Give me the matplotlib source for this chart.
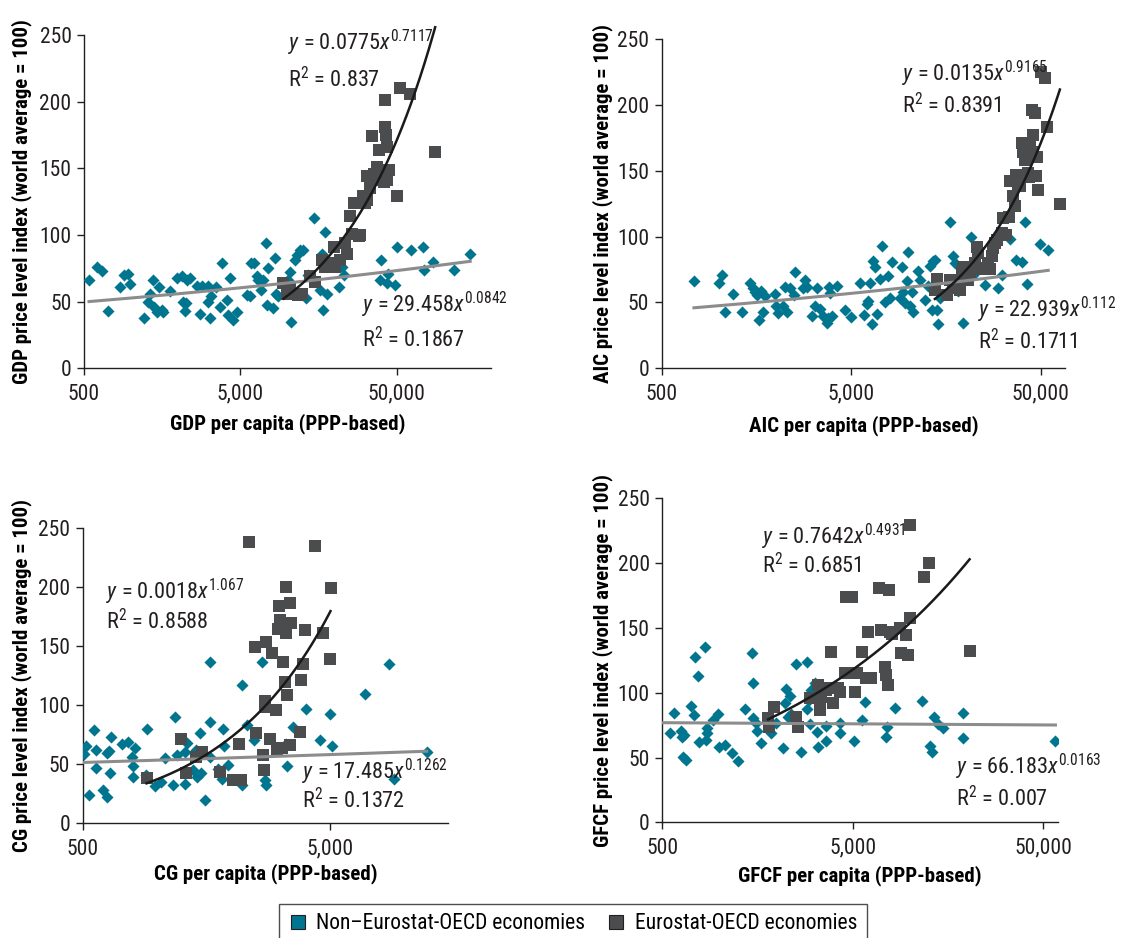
import numpy as np
import matplotlib
matplotlib.use('Agg')
import matplotlib.pyplot as plt
from matplotlib.lines import Line2D
from matplotlib import font_manager

# pick the narrowest sans family that is installed
avail = {f.name for f in font_manager.fontManager.ttflist}
FONT = next(n for n in ['Roboto Condensed', 'Liberation Sans Narrow', 'Roboto', 'Liberation Sans', 'DejaVu Sans']
            if n in avail)
plt.rcParams['font.family'] = [FONT, 'DejaVu Sans']
plt.rcParams['mathtext.fontset'] = 'custom'
plt.rcParams['mathtext.rm'] = FONT
plt.rcParams['mathtext.it'] = FONT + ':italic'
plt.rcParams['mathtext.bf'] = FONT + ':bold'

TEAL = '#00758f'
GREY = '#4b4c4e'
AXIS = '#231f20'

# ---- data (per capita in PPP terms, price level index world = 100) ----
gdp_non_x = [538, 608, 649, 716, 850, 901, 960, 984, 1210, 1290, 1322, 1374, 1402, 1459, 1517, 1570, 1608,
             1774, 1958, 2108, 2138, 2224, 2245, 2268, 2382, 2654, 2760, 2830, 3120, 3120, 3198, 3230, 3494,
             3706, 3798, 4088, 4170, 4296, 4466, 4738, 5546, 5765, 5820, 6115, 6360, 6520, 6810, 7015, 7260,
             7370, 7550, 8130, 8333, 8453, 8752, 10000, 10400, 10600, 10920, 11190, 11460, 12040, 12650,
             13150, 13610, 14660, 16180, 16570, 16820, 17410, 17830, 21190, 22240, 22800, 39100, 39500,
             43150, 43760, 48760, 50000, 61500, 73300, 74800, 85000, 116400, 147200]
gdp_non_y = [66, 76, 73, 43, 61, 70, 71, 63, 37.5, 50, 56, 66, 46, 42.5, 61, 44, 42.5,
             58, 68, 69, 50, 43, 49, 66, 68, 62, 41, 62, 62, 50, 37.5, 54, 61,
             46, 79, 51, 40, 67.5, 36, 42, 55, 54, 79, 79, 69, 66, 59, 66, 94,
             47.5, 75, 45, 82.5, 56, 54, 66, 72.5, 35, 56, 81, 85, 89, 89,
             52.5, 70, 113, 59, 86, 44, 102, 56, 61, 76, 70, 66, 81,
             64, 71, 62.5, 91, 89, 91, 74, 80, 74, 86]
gdp_oecd_x = [9420, 9890, 10400, 11740, 12330, 13950, 15020, 16570, 17410, 18280, 19680, 20170, 21720,
              23360, 23930, 25150, 25770, 26660, 28440, 29140, 30600, 31340, 32150, 32450, 33760, 34600,
              35480, 36360, 37260, 38190, 39100, 40080, 41100, 41500, 42100, 42100, 42740, 43150, 43150,
              44240, 50000, 52000, 60800, 87900]
gdp_oecd_y = [64, 56, 61, 55, 56, 69, 65, 81, 76, 79, 91, 76, 81,
              94, 86, 114, 101, 124, 99, 100, 129, 124, 144, 126, 135, 174,
              146, 141, 151, 164, 146, 144, 149, 140, 181, 201, 175, 166, 141,
              149, 129, 210, 206, 162]

aic_non_x = [740, 1007, 1036, 1079, 1194, 1321, 1461, 1509, 1553, 1597, 1637, 1663, 1704, 1754, 1979, 2004,
             2061, 2190, 2234, 2300, 2375, 2493, 2524, 2792, 2850, 2931, 3090, 3217, 3282, 3418, 3531, 3706,
             3782, 3829, 3860, 3938, 4185, 4628, 5000, 5553, 5832, 6022, 6146, 6272, 6400, 6530, 6664, 6800,
             7083, 7227, 7526, 7834, 7994, 8158, 9029, 9213, 9400, 9594, 9786, 9988, 10190, 10400, 10610,
             11270, 11500, 12230, 12740, 13000, 13260, 13530, 13800, 14090, 14380, 14670, 16560, 16900,
             17250, 17600, 18330, 19470, 19860, 21530, 21980, 25340, 29790, 31010, 34310, 37190, 39560,
             41180, 42010, 49390, 54670]
aic_non_y = [66.5, 64.5, 71, 43, 56, 43, 64.5, 61, 58, 55.5, 36.5, 59, 43, 54.5, 56, 47,
             42, 47, 62, 42.5, 61, 55.5, 73, 61, 67, 62, 40, 47, 61, 45, 40, 34,
             38, 62, 57, 40, 62.5, 44, 39, 64.5, 40.5, 48.5, 51, 64.5, 33.5, 81.5, 77, 41.5,
             68, 93, 50.5, 70, 53, 81, 53, 77, 58, 49.5, 66, 88.5, 47, 58, 42.5,
             74, 67, 52, 62.5, 77.5, 44.5, 81.5, 82.5, 44.5, 33.5, 53, 111, 62,
             85, 80, 59, 34, 71.5, 100, 71, 63, 61, 71, 98, 82, 81,
             111, 64, 94, 90]
aic_oecd_x = [13800, 14090, 15910, 16560, 17250, 17970, 18720, 19100, 19470, 19860, 20690, 21100, 22440,
              22900, 23370, 24340, 25340, 26390, 26910, 27470, 28050, 28600, 29190, 31010, 31630, 32940,
              34040, 34310, 35450, 36460, 37190, 37960, 38740, 39560, 40360, 41180, 42880, 43400, 43750,
              44650, 45190, 45570, 46500, 47070, 47460, 48410, 49810, 52490, 54000, 63000]
aic_oecd_y = [59.5, 68, 55.5, 67, 61, 64, 59.5, 72, 77, 71, 67, 72, 80,
              92, 87.5, 75, 76, 80, 75, 85, 91.5, 95, 97.5, 102.5, 114, 101,
              115, 142, 131, 123, 147, 139.5, 138, 171, 164.5, 158, 148, 145.5, 168,
              196, 164.5, 177, 194, 146, 160.5, 135, 225, 220, 183, 125]

cg_non_x = [506, 516, 532, 556, 566, 566, 606, 625, 629, 640, 649, 645, 718, 764, 788, 800, 800, 813, 900,
            906, 978, 1041, 1074, 1160, 1179, 1197, 1293, 1293, 1322, 1397, 1441, 1450, 1486, 1509, 1556,
            1631, 1641, 1641, 1762, 1834, 1846, 1857, 1934, 2209, 2209, 2307, 2454, 2659, 2717, 2760, 3303,
            3344, 3536, 4000, 4557, 4969, 5062, 6940, 8674, 9087, 12270]
cg_non_y = [58.6, 65.4, 23.7, 78.9, 62, 46.5, 28.2, 59.2, 22, 61.4, 73.3, 42.8, 67.1, 69, 56.4, 48.5, 39.5,
            63.4, 40.9, 79.5, 31.6, 35.2, 55, 32.4, 90.2, 57.5, 33.5, 60.6, 68.3, 45.1, 62, 39.5, 76.1, 42.3,
            19.7, 136.7, 85.9, 56.4, 46.2, 37.8, 79.4, 65.3, 49.3, 116.9, 32.4, 83.3, 70.4, 136.7, 36.6, 32.4,
            66.9, 48.5, 81.7, 96.4, 70.6, 92.4, 65.5, 109.2, 134.7, 37.8, 60]
cg_oecd_x = [906, 1253, 1305, 1441, 1523, 1789, 2025, 2141, 2188, 2350, 2477, 2500, 2676, 2693, 2717, 2734,
             2760, 2864, 2917, 3011, 3047, 3076, 3104, 3143, 3203, 3222, 3273, 3303, 3323, 3344, 3375, 3427,
             3449, 3481, 3760, 3819, 3879, 3940, 4324, 4671, 5015, 5000]
cg_oecd_y = [38, 71.3, 42.3, 56.4, 60.6, 43.4, 36.6, 67.1, 36.6, 238.2, 149.3, 76.1, 57.8, 45.1, 98.6, 103.7,
             153.5, 71.3, 143.7, 95.8, 62, 164.1, 183.8, 171.9, 63.4, 136.7, 119.8, 161.2, 200, 108.6, 169.1,
             186, 66, 169.1, 77.5, 121.2, 134.7, 163.4, 234.5, 160.6, 198.9, 138.8]

gfcf_non_x = [549, 576, 624, 632, 644, 650, 665, 704, 733, 742, 766, 782, 837, 847, 854, 861, 925, 984, 995,
              1066, 1155, 1252, 1357, 1471, 1489, 1500, 1550, 1575, 1653, 1872, 1973, 2156, 2200, 2244, 2290,
              2337, 2384, 2532, 2689, 2880, 2880, 2951, 2999, 3035, 3160, 3250, 3290, 3638, 3638, 4274, 4309,
              5060, 5618, 5803, 7508, 7568, 8304, 11600, 12670, 13090, 13300, 14010, 14880, 18960, 18960,
              58000]
gfcf_non_y = [68.7, 84.1, 70.2, 65.6, 50.2, 67.1, 48.1, 89.8, 82.8, 127.8, 112.9, 62.2, 135.5, 63.5, 68.7,
              72.5, 78.9, 83.6, 58.4, 59.7, 53.3, 47.6, 87.2, 130.4, 107.7, 80.2, 76.9, 70.7, 60.9, 68.7, 76.6,
              57.1, 91.8, 102.6, 81.5, 97.5, 83.6, 122.2, 54.5, 124, 87.2, 94.4, 75.6, 102, 107.2, 69.7, 57.9,
              62.7, 74.3, 68.7, 76.9, 62.7, 78.9, 92.8, 66.1, 73.3, 87.9, 93.9, 59.1, 54, 81.5, 75.9, 72.5,
              84.4, 64.8, 62.7]
gfcf_oecd_x = [1798, 1820, 1926, 2512, 2584, 2975, 3290, 3357, 3384, 3425, 3638, 3787, 3866, 3944, 4188, 4274,
               4540, 4632, 4980, 5143, 5269, 5618, 5898, 6017, 6266, 6873, 7069, 7361, 7508, 7659, 7753, 7880,
               8073, 8822, 8995, 9484, 9753, 9954, 10040, 11790, 12570, 20540]
gfcf_oecd_y = [80.2, 73.3, 89.2, 81.5, 73.8, 95.7, 105.9, 91.8, 86.7, 96.8, 102, 103.3, 131.7, 91.8, 103.3,
               100.7, 114.9, 174.1, 174.1, 100.2, 115, 131.7, 111.1, 147.1, 111.1, 180.5, 148.4, 120.1, 113.7,
               106.1, 179.2, 147.1, 145.3, 149.7, 130.4, 144.5, 129.1, 157.4, 229.4, 189, 200, 132.5]

names = ['GDP', 'AIC', 'CG', 'GFCF']
# power trend lines y = a * x**b as they are drawn in the chart
oecd_a = [0.0775, 0.00845, 0.0439, 4.437]
oecd_b = [0.7117, 0.9165, 0.976, 0.385]
non_a = [29.458, 21.9, 37.0, 79.3]
non_b = [0.0842, 0.112, 0.053, -0.00495]
non_xmin = [538, 740, 500, 500]
# equation labels printed in the chart
eq_fmt = [('0.0775', '0.7117', '0.837', '29.458', '0.0842', '0.1867'),
          ('0.0135', '0.9165', '0.8391', '22.939', '0.112', '0.1711'),
          ('0.0018', '1.067', '0.8588', '17.485', '0.1262', '0.1372'),
          ('0.7642', '0.4931', '0.6851', '66.183', '0.0163', '0.007')]

panels = [
    dict(non=(gdp_non_x, gdp_non_y), oecd=(gdp_oecd_x, gdp_oecd_y), rect=[0.0741, 0.6074, 0.3589, 0.3553],
         xmax=200000, ticks=[500, 5000, 50000], txt=[(0.50, 0.976), (0.50, 0.865), (0.682, 0.19), (0.682, 0.085)],
         ylab=62, xlab=55),
    dict(non=(aic_non_x, aic_non_y), oecd=(aic_oecd_x, aic_oecd_y), rect=[0.5835, 0.6074, 0.3556, 0.3511],
         xmax=67000, ticks=[500, 5000, 50000], txt=[(0.595, 0.894), (0.595, 0.797), (0.785, 0.177), (0.785, 0.081)],
         ylab=59, xlab=57),
    dict(non=(cg_non_x, cg_non_y), oecd=(cg_oecd_x, cg_oecd_y), rect=[0.0729, 0.1223, 0.3224, 0.3151],
         xmax=15000, ticks=[500, 5000], txt=[(0.064, 0.783), (0.064, 0.682), (0.599, 0.174), (0.599, 0.078)],
         ylab=61, xlab=50),
    dict(non=(gfcf_non_x, gfcf_non_y), oecd=(gfcf_oecd_x, gfcf_oecd_y), rect=[0.5840, 0.1233, 0.3492, 0.3454],
         xmax=60000, ticks=[500, 5000, 50000], txt=[(0.251, 0.881), (0.251, 0.794), (0.742, 0.172), (0.742, 0.074)],
         ylab=60, xlab=53),
]

fig = plt.figure(figsize=(11.34, 9.38), dpi=100)
W, H = 1134, 938
TICK = 15.5
TXT = 16
LAB = 15

for i, p in enumerate(panels):
    ax = fig.add_axes(p['rect'])
    ax.set_xscale('log')
    ax.set_xlim(500, p['xmax'])
    ax.set_ylim(0, 250)

    ax.scatter(p['non'][0], p['non'][1], marker='D', s=38, color=TEAL, linewidths=0, zorder=3)
    ax.scatter(p['oecd'][0], p['oecd'][1], marker='s', s=85, color=GREY, linewidths=0, zorder=3)

    xs = np.geomspace(non_xmin[i], max(p['non'][0]), 200)
    ax.plot(xs, non_a[i] * xs ** non_b[i], color='#8c8c8c', lw=2.2, zorder=4)
    xs = np.geomspace(min(p['oecd'][0]), max(p['oecd'][0]), 200)
    ax.plot(xs, oecd_a[i] * xs ** oecd_b[i], color='#1a1a1a', lw=1.8, zorder=5, clip_on=False)

    f = eq_fmt[i]
    tx = p['txt']
    labels = [r'$\mathit{y}$ = %s$\mathit{x}^{%s}$' % (f[0], f[1]), r'R$^{2}$ = %s' % f[2],
              r'$\mathit{y}$ = %s$\mathit{x}^{%s}$' % (f[3], f[4]), r'R$^{2}$ = %s' % f[5]]
    for (tx_x, tx_y), s in zip(tx, labels):
        ax.text(tx_x, tx_y, s, transform=ax.transAxes, fontsize=TXT, va='center', ha='left', color=AXIS)

    for s in ['top', 'right']:
        ax.spines[s].set_visible(False)
    for s in ['left', 'bottom']:
        ax.spines[s].set_color(AXIS)
        ax.spines[s].set_linewidth(1.0)

    ax.set_xticks(p['ticks'])
    ax.set_xticklabels(['{:,}'.format(t) for t in p['ticks']])
    ax.xaxis.set_minor_locator(plt.NullLocator())
    ax.set_yticks([0, 50, 100, 150, 200, 250])
    ax.tick_params(direction='out', length=5, width=1.0, color=AXIS, labelsize=TICK, labelcolor=AXIS)
    ax.tick_params(axis='x', pad=6)
    ax.tick_params(axis='y', pad=4)

    axw = p['rect'][2] * W
    axh = p['rect'][3] * H
    ax.set_xlabel('%s per capita (PPP-based)' % names[i], fontsize=LAB, fontweight='bold', va='center')
    ax.xaxis.set_label_coords(0.5, -p['xlab'] / axh)
    ax.set_ylabel('%s price level index (world average = 100)' % names[i], fontsize=LAB,
                  fontweight='bold', va='center')
    ax.yaxis.set_label_coords(-p['ylab'] / axw, 0.5)

handles = [Line2D([], [], ls='none', marker='s', markersize=10, markerfacecolor=TEAL, markeredgecolor=AXIS,
                  markeredgewidth=0.8),
           Line2D([], [], ls='none', marker='s', markersize=10, markerfacecolor=GREY, markeredgecolor=AXIS,
                  markeredgewidth=0.8)]
leg = fig.legend(handles, ['Non\u2013Eurostat-OECD economies', 'Eurostat-OECD economies'],
                 loc='upper center', bbox_to_anchor=(0.505, 0.0365), ncol=2, fontsize=15.5, frameon=True,
                 fancybox=False, edgecolor=AXIS, handletextpad=0.4, columnspacing=1.0, borderpad=0.45,
                 handlelength=0.9, borderaxespad=0)
leg.get_frame().set_linewidth(1.0)

fig.savefig('out.png', dpi=100)
